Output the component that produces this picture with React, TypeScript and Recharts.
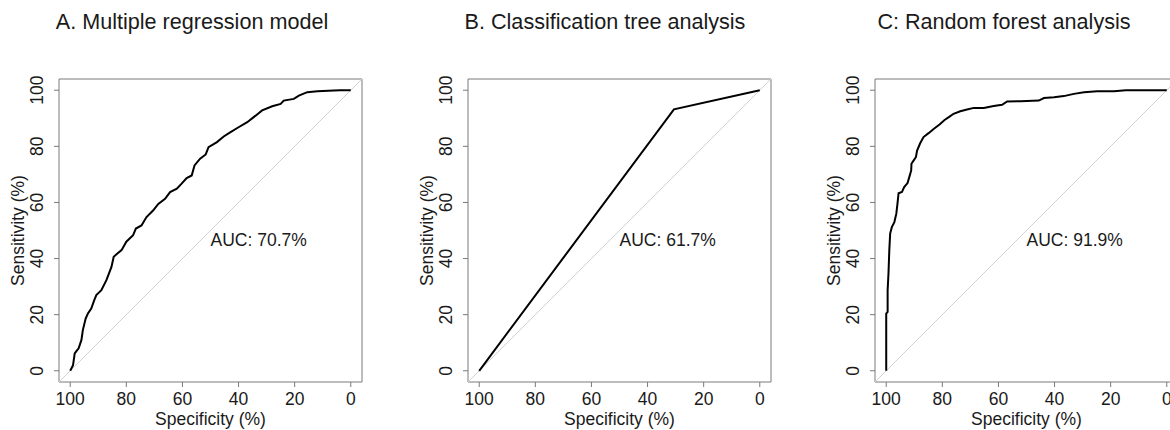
import React from 'react';
import { LineChart, Line, XAxis, YAxis, ReferenceLine, ReferenceArea, ReferenceDot } from 'recharts';

// Panel A: Multiple regression model (specificity %, sensitivity %)
const specA = [100, 99, 98.4, 97.8, 97, 96, 95.5, 94.5, 93.7, 92.5, 91.5, 90.7, 88.9, 87.1, 85.3, 84.5, 83.5, 81.7, 80, 77.6, 76.6, 74.6, 73.6, 72.8, 70.4, 68.6, 66.2, 64.4, 62, 60.3, 58.5, 56.7, 55.7, 53.7, 51.7, 50.7, 47.7, 45.3, 43, 40, 36.9, 34.6, 31.6, 28, 25, 23.9, 20.3, 18.5, 15.5, 11.9, 6, 3.6, 0];
const sensA = [0, 2, 6.2, 7, 8, 11, 14.5, 18.6, 20.4, 22.2, 25, 27, 28.7, 32.3, 37, 40.6, 41.5, 43, 46, 48.3, 50.7, 51.8, 53.5, 54.8, 57.2, 59.5, 61.3, 63.7, 64.9, 66.7, 68.7, 69.6, 73.2, 75.6, 77.1, 79.7, 81.5, 83.5, 85, 86.8, 88.6, 90.4, 92.8, 94.3, 95.1, 96.3, 96.9, 98.1, 99.3, 99.6, 99.9, 100, 100];

// Panel B: Classification tree analysis
const specB = [100, 30.6, 0];
const sensB = [0, 93.2, 100];

// Panel C: Random forest analysis
const specC = [100, 100, 99.5, 99.5, 99.2, 98.9, 98.6, 98, 97.1, 96.4, 96, 95.6, 94.4, 93.6, 92.4, 91.7, 91.1, 91, 90.2, 89.4, 89, 87.9, 86.7, 84.9, 83.1, 81, 79.2, 77.7, 76, 73.6, 71.2, 68.8, 65.2, 61.7, 58.7, 56.9, 52.1, 45.6, 43.8, 40.2, 36.7, 33.1, 29.5, 24.8, 18.8, 14.6, 0];
const sensC = [0, 20.4, 21, 28.7, 34.6, 43, 48.9, 51.2, 53, 56, 59.5, 63.3, 63.7, 65.5, 66.9, 69.3, 71.4, 73.8, 75, 76.2, 78.5, 81.1, 83.3, 84.7, 86.2, 87.8, 89.4, 90.4, 91.6, 92.5, 93.1, 93.7, 93.7, 94.4, 94.8, 96, 96.1, 96.3, 97.2, 97.5, 97.9, 98.7, 99.3, 99.6, 99.6, 100, 100];

const titles = ['A. Multiple regression model', 'B. Classification tree analysis', 'C: Random forest analysis'];
const aucLabels = ['AUC: 70.7%', 'AUC: 61.7%', 'AUC: 91.9%'];
const axisTicks = [0, 20, 40, 60, 80, 100];
const xTitle = 'Specificity (%)';
const yTitle = 'Sensitivity (%)';

const FONT = '"Liberation Sans", Arial, Helvetica, sans-serif';
const TEXT = '#1a1a1a';
const FS = 17.5;

const build = (s: number[], v: number[]) => s.map((x, i) => ({ spec: x, sens: v[i] }));

const panels = [
  { data: build(specA, sensA), left: 0, yw: 59, width: 390, titleX: 192 },
  { data: build(specB, sensB), left: 390, yw: 78, width: 390, titleX: 605 - 390 },
  { data: build(specC, sensC), left: 780, yw: 95, width: 397, titleX: 1004 - 780 },
];

const PW = 303;
const TOP = 79;
const H = 430;
const XH = 48;

const YTick = (props: any) => {
  const { x, y, payload } = props;
  const bx = x - 9;
  return (
    <text x={bx} y={y} transform={`rotate(-90, ${bx}, ${y})`} textAnchor="middle" fontFamily={FONT} fontSize={FS} fill={TEXT}>
      {payload.value}
    </text>
  );
};

const XTick = (props: any) => {
  const { x, payload } = props;
  return (
    <text x={x} y={TOP + PW + 23} textAnchor="middle" fontFamily={FONT} fontSize={FS} fill={TEXT}>
      {payload.value}
    </text>
  );
};

function Panel({ p, idx }: { p: any; idx: number }) {
  const plotLeft = p.yw;
  const plotBottom = TOP + PW;
  const mx = plotLeft + PW / 2;
  const my = TOP + PW / 2;
  return (
    <div style={{ position: 'absolute', left: p.left, top: 0, width: p.width, height: H }}>
      <LineChart width={p.width} height={H} data={p.data} margin={{ top: TOP, right: p.width - p.yw - PW, bottom: 0, left: 0 }}>
        <XAxis
          dataKey="spec"
          type="number"
          domain={[-4, 104]}
          reversed
          ticks={axisTicks}
          allowDataOverflow
          axisLine={false}
          tickLine={{ stroke: '#7a7a7a' }}
          tickSize={5}
          height={XH}
          tick={<XTick />}
          interval={0}
        />
        <YAxis
          dataKey="sens"
          type="number"
          domain={[-4, 104]}
          ticks={axisTicks}
          allowDataOverflow
          axisLine={false}
          tickLine={{ stroke: '#7a7a7a' }}
          tickSize={5}
          width={p.yw}
          tick={<YTick />}
          interval={0}
        />
        <ReferenceArea x1={-4} x2={104} y1={-4} y2={104} fill="none" stroke="#7a7a7a" strokeWidth={1} ifOverflow="visible" />
        <ReferenceLine segment={[{ x: 104, y: -4 }, { x: -4, y: 104 }]} stroke="#d2d2d2" strokeWidth={1} ifOverflow="visible" />
        <Line type="linear" dataKey="sens" stroke="#000" strokeWidth={2} dot={false} isAnimationActive={false} />
        <ReferenceDot
          x={50}
          y={50}
          r={0}
          ifOverflow="visible"
          shape={(sp: any) => (
            <text x={sp.cx} y={sp.cy + 15.7} textAnchor="start" fontFamily={FONT} fontSize={FS} fill={TEXT}>
              {aucLabels[idx]}
            </text>
          )}
        />
      </LineChart>
      <div style={{ position: 'absolute', left: 0, top: 0, width: p.width, height: H, pointerEvents: 'none' }}>
        <svg width={p.width} height={H} style={{ position: 'absolute', left: 0, top: 0 }}>
          <text x={p.titleX} y={29.3} textAnchor="middle" fontFamily={FONT} fontSize={21.6} fill={TEXT}>
            {titles[idx]}
          </text>
          <text x={mx} y={plotBottom + 42.5} textAnchor="middle" fontFamily={FONT} fontSize={FS} fill={TEXT}>
            {xTitle}
          </text>
          <text x={plotLeft - 35.5} y={my} transform={`rotate(-90, ${plotLeft - 35.5}, ${my})`} textAnchor="middle" fontFamily={FONT} fontSize={FS} fill={TEXT}>
            {yTitle}
          </text>
        </svg>
      </div>
    </div>
  );
}

export default function App() {
  return (
    <div style={{ position: 'absolute', left: 0, top: 0, width: 1170, height: 430, overflow: 'hidden', background: '#fff' }}>
      {panels.map((p, i) => (
        <Panel key={i} p={p} idx={i} />
      ))}
    </div>
  );
}
